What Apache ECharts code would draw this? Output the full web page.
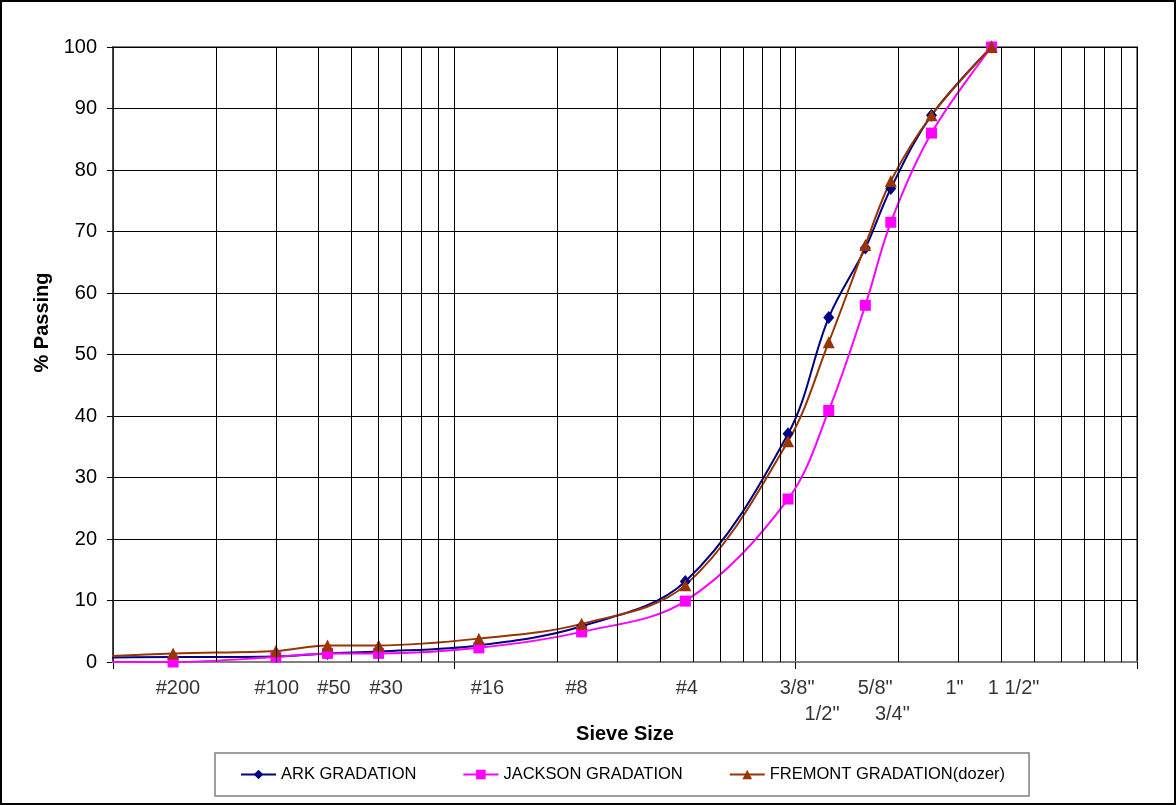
<!DOCTYPE html>
<html><head><meta charset="utf-8">
<script src="https://cdn.jsdelivr.net/npm/echarts@6/dist/echarts.min.js"></script>
<style>
html,body{margin:0;padding:0;background:#fff;}
#wrap{position:relative;width:1176px;height:805px;}
#chart{position:absolute;left:0;top:0;width:1176px;height:805px;}
#frame{position:absolute;left:0;top:0;width:1176px;height:805px;box-sizing:border-box;border:2px solid #000;pointer-events:none;}
</style></head><body>
<div id="wrap"><div id="chart"></div><div id="frame"></div></div>
<script>
// Sieve opening sizes (mm) for the measured points
const sieveSizes = [0.075, 0.15, 0.3, 0.425, 0.6, 1.18, 2.36, 4.75, 9.5, 12.5, 16, 19, 25, 37.5];
// % passing
const arkValues     = [0.7, 0.8, 0.9, 1.4, 1.7, 2.7, 5.8, 13.1, 37.1, 56.0, 67.3, 77.0, 88.9, 100];
const jacksonValues = [0.0, 0.0, 0.8, 1.4, 1.4, 2.3, 4.9,  9.9, 26.5, 40.9, 58.0, 71.5, 86.0, 100];
const fremontValues = [0.6, 1.4, 1.8, 2.7, 2.7, 3.8, 6.2, 12.5, 35.9, 52.0, 67.8, 78.2, 88.9, 100];
const seriesNames = ['ARK GRADATION', 'JACKSON GRADATION', 'FREMONT GRADATION(dozer)'];
// Sieve tick labels (as placed on the original chart) and the size they sit at
const labelRow1 = ['#200', '#100', '#50', '#30', '#16', '#8', '#4', '3/8"', '5/8"', '1"', '1 1/2"'];
const labelRow1At = [0.155, 0.302, 0.444, 0.631, 1.25, 2.28, 4.80, 10.1, 17.1, 29.2, 43.5];
const labelRow2 = ['1/2"', '3/4"'];
const labelRow2At = [11.95, 19.2];
// minor log gridlines
const minorGrid = [0.2,0.3,0.4,0.5,0.6,0.7,0.8,0.9, 2,3,4,5,6,7,8,9, 20,30,40,50,60,70,80,90];

const FONT = "Arial, 'Liberation Sans', sans-serif";
const pts = vals => sieveSizes.map((s, i) => [s, vals[i]]);

const chart = echarts.init(document.getElementById('chart'), null, {renderer: 'canvas'});
const lineSeries = (name, vals, color, symbol, size) => ({
  name, type: 'line', data: pts(vals), smooth: 0.35, symbol, symbolSize: size,
  showSymbol: true, clip: true, z: 3,
  lineStyle: {color, width: 2}, itemStyle: {color, borderWidth: 0},
  emphasis: {disabled: true}
});
const labelSeries = (names, at, offsetY, extra) => Object.assign({
  type: 'scatter', silent: true, z: 1, symbolSize: 1,
  itemStyle: {color: 'rgba(0,0,0,0)'},
  data: names.map((n, i) => ({name: n, value: [at[i], 0]})),
  label: {show: true, position: 'inside', offset: [0, offsetY], formatter: p => p.name,
          color: '#000', fontSize: 20, fontFamily: FONT, align: 'center', verticalAlign: 'middle'},
  emphasis: {disabled: true}
}, extra || {});

chart.setOption({
  animation: false,
  backgroundColor: '#fff',
  textStyle: {fontFamily: FONT},
  grid: {left: 113, right: 39, top: 47, bottom: 143, show: true, borderColor: '#808080', borderWidth: 2,
         containLabel: false, outerBoundsMode: 'none'},
  legend: {
    data: seriesNames, left: 215, top: 753, orient: 'horizontal',
    padding: [13, 24, 13, 25], itemGap: 46, itemWidth: 35, itemHeight: 12,
    borderColor: '#808080', borderWidth: 1.5, backgroundColor: '#fff',
    textStyle: {fontSize: 16.5, color: '#000', fontFamily: FONT}
  },
  xAxis: {
    type: 'log', logBase: 10, min: 0.1, max: 100,
    name: 'Sieve Size', nameLocation: 'middle', nameGap: 62,
    nameTextStyle: {fontSize: 20, fontWeight: 'bold', color: '#000', fontFamily: FONT},
    axisLine: {show: true, lineStyle: {color: '#808080', width: 2}},
    axisTick: {show: true, inside: false, length: 7, lineStyle: {color: '#000', width: 1}},
    axisLabel: {show: false},
    splitLine: {show: true, lineStyle: {color: '#000', width: 1}},
    minorTick: {show: false}, minorSplitLine: {show: false}
  },
  yAxis: {
    type: 'value', min: 0, max: 100, interval: 10,
    name: '% Passing', nameLocation: 'middle', nameGap: 58, nameRotate: 90,
    nameTextStyle: {fontSize: 20, fontWeight: 'bold', color: '#000', fontFamily: FONT, padding: [0, 0, 0, 64]},
    axisLine: {show: true, lineStyle: {color: '#333', width: 1.5}},
    axisTick: {show: true, inside: false, length: 6, lineStyle: {color: '#000', width: 1}},
    axisLabel: {show: true, margin: 16, fontSize: 20, color: '#000', fontFamily: FONT},
    splitLine: {show: true, lineStyle: {color: '#000', width: 1}}
  },
  series: [
    labelSeries(labelRow1, labelRow1At, 26, {
      markLine: {
        silent: true, symbol: ['none', 'none'], label: {show: false}, animation: false,
        lineStyle: {type: 'solid', color: '#000', width: 1},
        emphasis: {disabled: true},
        data: minorGrid.map(v => ({xAxis: v}))
      }
    }),
    labelSeries(labelRow2, labelRow2At, 52),
    lineSeries(seriesNames[0], arkValues, '#000080', 'diamond', [11, 13]),
    lineSeries(seriesNames[1], jacksonValues, '#FF00FF', 'rect', 11),
    lineSeries(seriesNames[2], fremontValues, '#993300', 'triangle', 12)
  ]
});
</script>
</body></html>
